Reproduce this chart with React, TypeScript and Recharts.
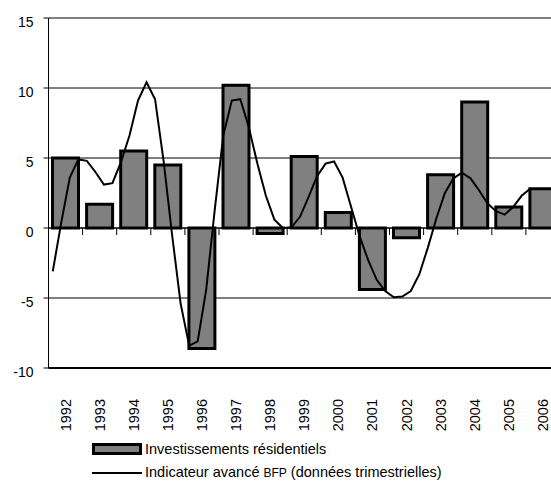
import {
  ComposedChart,
  Bar,
  Line,
  XAxis,
  YAxis,
  CartesianGrid,
  ReferenceLine,
  Legend,
} from "recharts";

const years = [
  "1992", "1993", "1994", "1995", "1996", "1997", "1998", "1999",
  "2000", "2001", "2002", "2003", "2004", "2005", "2006",
];

// annual values, in %
const investissements = [5.0, 1.7, 5.5, 4.5, -8.6, 10.2, -0.4, 5.1, 1.1, -4.4, -0.7, 3.8, 9.0, 1.5, 2.8];

// quarterly values 1992Q1 .. 2006Q1
const indicateur = [
  -3.1, 0.4, 3.6, 4.9,
  4.8, 4.0, 3.1, 3.2,
  4.7, 6.6, 9.1, 10.4,
  9.2, 4.8, -0.5, -5.4,
  -8.4, -8.1, -4.4, 1.3,
  6.6, 9.1, 9.2, 7.2,
  4.6, 2.3, 0.6, 0.0,
  0.05, 0.8, 2.2, 3.7,
  4.6, 4.75, 3.6, 1.5,
  -0.6, -2.3, -3.7, -4.5,
  -4.95, -4.9, -4.5, -3.3,
  -1.4, 0.7, 2.5, 3.55,
  3.95, 3.55, 2.7, 1.75,
  1.2, 0.95, 1.5, 2.3,
  2.8,
];

const yTicks = [15, 10, 5, 0, -5, -10];

const barData = years.map((year, i) => ({ year, investissements: investissements[i] }));
const lineData = indicateur.map((value, k) => ({ pos: (k + 0.5) / 4, indicateur: value }));
const boundaries = years.slice(1).map((_, i) => i + 1);

const font = '"Liberation Sans", Arial, sans-serif';

function YearTick({ x, y, payload }: any) {
  const ty = y + 23;
  return (
    <text
      x={x}
      y={ty}
      transform={`rotate(-90 ${x} ${ty})`}
      textAnchor="end"
      dominantBaseline="central"
      fontSize={14.5}
      fontFamily={font}
      fill="#000"
    >
      {payload.value}
    </text>
  );
}

function ValueTick({ x, y, payload }: any) {
  return (
    <text
      x={x}
      y={y + 3.5}
      textAnchor="end"
      dominantBaseline="central"
      fontSize={14}
      fontFamily={font}
      fill="#000"
    >
      {payload.value}
    </text>
  );
}

function LegendContent() {
  return (
    <div style={{ fontFamily: font, fontSize: 14.5, color: "#000", lineHeight: "18px", whiteSpace: "nowrap" }}>
      <div style={{ display: "flex", alignItems: "center", height: 18 }}>
        <svg width={55} height={12}>
          <rect x={3.5} y={1.5} width={47} height={9} fill="#808080" stroke="#000" strokeWidth={3} />
        </svg>
        <span>Investissements résidentiels</span>
      </div>
      <div style={{ display: "flex", alignItems: "center", height: 18, marginTop: 5.5 }}>
        <svg width={55} height={12}>
          <line x1={2} y1={6} x2={52} y2={6} stroke="#000" strokeWidth={2} />
        </svg>
        <span>
          Indicateur avancé <span style={{ fontSize: 12 }}>BFP</span> (données trimestrielles)
        </span>
      </div>
    </div>
  );
}

export default function App() {
  return (
    <div
      style={{
        position: "absolute",
        left: 0,
        top: 0,
        width: 551,
        height: 489,
        overflow: "hidden",
        background: "#fff",
      }}
    >
      <ComposedChart
        width={560}
        height={489}
        data={barData}
        margin={{ top: 18, right: 0, bottom: 71, left: 0 }}
      >
        <CartesianGrid xAxisId="year" vertical={false} stroke="#000" />
        <XAxis
          xAxisId="year"
          dataKey="year"
          height={50}
          interval={0}
          axisLine={{ stroke: "#000", strokeWidth: 2 }}
          tickLine={false}
          tick={YearTick}
        />
        <XAxis
          xAxisId="q"
          type="number"
          dataKey="pos"
          orientation="top"
          height={0}
          domain={[0, 15]}
          allowDataOverflow
          hide
        />
        <YAxis
          width={48.5}
          domain={[-10, 15]}
          ticks={yTicks}
          interval={0}
          allowDataOverflow
          tickSize={5}
          tickMargin={10}
          axisLine={{ stroke: "#000" }}
          tickLine={{ stroke: "#000" }}
          tick={ValueTick}
        />
        <Bar
          xAxisId="year"
          dataKey="investissements"
          fill="#808080"
          stroke="#000"
          strokeWidth={3}
          barSize={26}
          isAnimationActive={false}
        />
        <ReferenceLine xAxisId="q" y={0} stroke="#000" />
        {boundaries.map((b) => (
          <ReferenceLine
            key={b}
            xAxisId="q"
            segment={[
              { x: b, y: 0 },
              { x: b, y: -0.5 },
            ]}
            stroke="#000"
          />
        ))}
        <Line
          xAxisId="q"
          data={lineData}
          dataKey="indicateur"
          type="linear"
          stroke="#000"
          strokeWidth={2}
          dot={false}
          isAnimationActive={false}
        />
        <Legend
          layout="horizontal"
          verticalAlign="middle"
          align="center"
          content={LegendContent}
          wrapperStyle={{ left: 90, top: 440, width: 440, height: 45 }}
        />
      </ComposedChart>
    </div>
  );
}
